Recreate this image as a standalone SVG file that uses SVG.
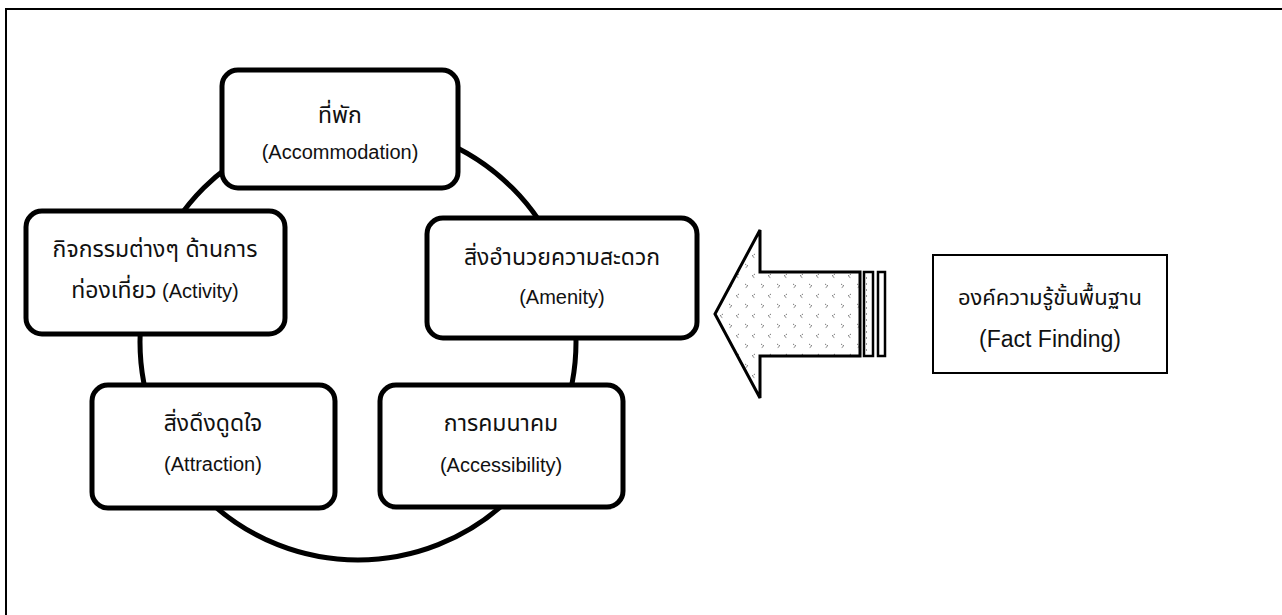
<svg xmlns="http://www.w3.org/2000/svg" width="1282" height="615" viewBox="0 0 1282 615">
<style>
.box{fill:#fff;stroke:#000;stroke-width:5}
.t{font-family:"Liberation Sans","Noto Sans Thai","Noto Sans",sans-serif;font-size:20px;fill:#111;text-anchor:middle}
.th{font-size:23px}
.big{font-size:22px}
.en2{font-size:23px}
</style>
<defs>
<pattern id="dots" width="16" height="20" patternUnits="userSpaceOnUse" x="716" y="272">
<rect width="16" height="20" fill="#fff"/>
<path d="M7 2 l-3 2 l3 2 M13 12 l3 2 l-3 2" fill="none" stroke="#777" stroke-width="1" stroke-dasharray="1.5 0.8"/>
</pattern>
<pattern id="vd" width="6" height="6" patternUnits="userSpaceOnUse">
<rect width="6" height="6" fill="#fff"/>
<rect x="2" y="1" width="1" height="2" fill="#999"/>
</pattern>
</defs>
<rect x="6" y="9" width="1300" height="620" fill="none" stroke="#000" stroke-width="2"/>
<g id="connectors">
<circle cx="358" cy="342" r="218" fill="none" stroke="#000" stroke-width="5"/>
<path d="M715 314 L760 230 L760 272 L860 272 L860 356 L760 356 L760 398 Z" fill="url(#dots)" stroke="#000" stroke-width="3" stroke-linejoin="miter"/>
<rect x="864" y="272" width="9" height="84" fill="url(#vd)" stroke="#000" stroke-width="2.5"/>
<rect x="878" y="272" width="7" height="84" fill="url(#vd)" stroke="#000" stroke-width="2.5"/>
</g>
<g id="accommodation">
<rect class="box" x="222" y="70" width="236" height="118" rx="16"/>
<text class="t th" x="340" y="123">ที่พัก</text>
<text class="t" x="340" y="159">(Accommodation)</text>
</g>
<g id="activity">
<rect class="box" x="26" y="211" width="259" height="123" rx="16"/>
<text class="t th" x="155" y="257">กิจกรรมต่างๆ ด้านการ</text>
<text class="t" x="155" y="298"><tspan class="th">ท่องเที่ยว</tspan> (Activity)</text>
</g>
<g id="amenity">
<rect class="box" x="427" y="218" width="270" height="120" rx="16"/>
<text class="t th" x="562" y="265">สิ่งอำนวยความสะดวก</text>
<text class="t" x="562" y="304">(Amenity)</text>
</g>
<g id="attraction">
<rect class="box" x="92" y="385" width="243" height="123" rx="16"/>
<text class="t th" x="213" y="431">สิ่งดึงดูดใจ</text>
<text class="t" x="213" y="471">(Attraction)</text>
</g>
<g id="accessibility">
<rect class="box" x="380" y="385" width="243" height="122" rx="16"/>
<text class="t th" x="501" y="431">การคมนาคม</text>
<text class="t" x="501" y="472">(Accessibility)</text>
</g>
<g id="factfinding">
<rect x="933" y="255" width="234" height="118" fill="#fff" stroke="#000" stroke-width="2"/>
<text class="t big" x="1050" y="305">องค์ความรู้ขั้นพื้นฐาน</text>
<text class="t en2" x="1050" y="347">(Fact Finding)</text>
</g>
</svg>
